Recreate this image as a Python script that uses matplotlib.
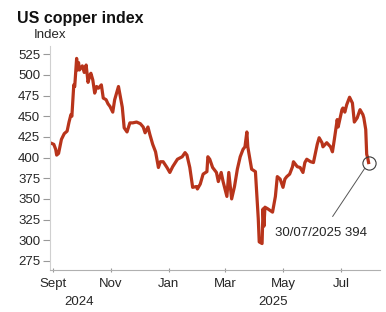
import matplotlib
matplotlib.use('Agg')
import matplotlib.pyplot as plt
import matplotlib.dates as mdates
import matplotlib.transforms as mtransforms
import pandas as pd

# values
dates = ['2024-08-31', '2024-09-02', '2024-09-04', '2024-09-05', '2024-09-07', '2024-09-10',
         '2024-09-13', '2024-09-16', '2024-09-18', '2024-09-20', '2024-09-21', '2024-09-23',
         '2024-09-24', '2024-09-26', '2024-09-27', '2024-09-28', '2024-09-29', '2024-10-02',
         '2024-10-04', '2024-10-06', '2024-10-08', '2024-10-10', '2024-10-11', '2024-10-13',
         '2024-10-15', '2024-10-17', '2024-10-19', '2024-10-22', '2024-10-24', '2024-10-27',
         '2024-10-29', '2024-10-31', '2024-11-03', '2024-11-05', '2024-11-07', '2024-11-09',
         '2024-11-13', '2024-11-15', '2024-11-18', '2024-11-21', '2024-11-24', '2024-11-28',
         '2024-12-02', '2024-12-05', '2024-12-07', '2024-12-10', '2024-12-12', '2024-12-15',
         '2024-12-18', '2024-12-21', '2024-12-23', '2024-12-26', '2024-12-30', '2025-01-02',
         '2025-01-05', '2025-01-10', '2025-01-15', '2025-01-18', '2025-01-20', '2025-01-23',
         '2025-01-26', '2025-01-30', '2025-01-31', '2025-02-03', '2025-02-06', '2025-02-10',
         '2025-02-11', '2025-02-13', '2025-02-16', '2025-02-20', '2025-02-22', '2025-02-25',
         '2025-02-27', '2025-03-03', '2025-03-05', '2025-03-08', '2025-03-11', '2025-03-14',
         '2025-03-17', '2025-03-20', '2025-03-22', '2025-03-24', '2025-03-25', '2025-03-29',
         '2025-04-02', '2025-04-05', '2025-04-06', '2025-04-09', '2025-04-10', '2025-04-11',
         '2025-04-12', '2025-04-15', '2025-04-20', '2025-04-23', '2025-04-25', '2025-04-28',
         '2025-05-01', '2025-05-03', '2025-05-05', '2025-05-08', '2025-05-11', '2025-05-12',
         '2025-05-16', '2025-05-19', '2025-05-22', '2025-05-24', '2025-05-26', '2025-05-30',
         '2025-06-02', '2025-06-06', '2025-06-08', '2025-06-11', '2025-06-12', '2025-06-16',
         '2025-06-20', '2025-06-22', '2025-06-24', '2025-06-27', '2025-06-28', '2025-07-02',
         '2025-07-03', '2025-07-05', '2025-07-07', '2025-07-10', '2025-07-13', '2025-07-15',
         '2025-07-18', '2025-07-21', '2025-07-24', '2025-07-25', '2025-07-27', '2025-07-28',
         '2025-07-29', '2025-07-30']
index_values = [417, 416, 410, 403, 405, 422,
                429, 432, 443, 452, 450, 488,
                486, 520, 506, 515, 506, 511,
                503, 512, 491, 500, 502, 494,
                478, 486, 484, 488, 472, 470,
                465, 462, 455, 470, 478, 486,
                461, 436, 431, 442, 442, 443,
                441, 437, 430, 437, 428, 416,
                407, 388, 395, 395, 388, 382,
                389, 398, 401, 406, 403, 388,
                364, 365, 362, 368, 380, 383,
                401, 398, 388, 382, 371, 382,
                371, 353, 382, 350, 365, 386,
                401, 410, 413, 431, 413, 386,
                383, 326, 298, 296, 338, 317,
                340, 338, 334, 353, 377, 374,
                364, 374, 377, 380, 389, 395,
                389, 388, 382, 394, 398, 395,
                394, 416, 424, 418, 413, 418,
                413, 407, 422, 446, 437, 458,
                460, 455, 464, 473, 466, 443,
                448, 458, 452, 448, 434, 404,
                400, 394]
y_ticks = [275, 300, 325, 350, 375, 400, 425, 450, 475, 500, 525]
month_ticks = ['2024-09-01', '2024-11-01', '2025-01-01', '2025-03-01', '2025-05-01', '2025-07-01']
month_labels = ['Sept', 'Nov', 'Jan', 'Mar', 'May', 'Jul']
year_labels = ['2024', '2025']
year_pos = ['2024-09-29', '2025-04-21']
last_label = '30/07/2025 394'

plt.rcParams['font.family'] = ['Liberation Sans', 'DejaVu Sans']

x = pd.to_datetime(dates)
line_col = '#b8341b'
txt_col = '#262626'

fig = plt.figure(figsize=(3.86, 3.12), dpi=100)
ax = fig.add_axes([50/386, 42/312, 330/386, 224/312])

ax.plot(x, index_values, color=line_col, lw=2.3, solid_joinstyle='round')

# highlight last point
ax.plot(x[-1], index_values[-1], 'o', ms=9.5, mfc='none', mec='#3a3a3a', mew=0.8)
ax.annotate(last_label, xy=(x[-1], index_values[-1]), xytext=(-34, -51),
            textcoords='offset points', ha='center', va='center',
            fontsize=9.5, color=txt_col,
            arrowprops=dict(arrowstyle='-', color='#555555', lw=0.7,
                            shrinkA=7, shrinkB=5))

ax.set_xlim(pd.Timestamp('2024-08-29'), pd.Timestamp('2025-08-11'))
ax.set_ylim(264, 535)
ax.set_yticks(y_ticks)
ax.set_xticks(pd.to_datetime(month_ticks))
ax.set_xticklabels(month_labels)

for s in ['top', 'right']:
    ax.spines[s].set_visible(False)
ax.spines['left'].set_color('#d0d0d0')
ax.spines['bottom'].set_color('#b0b0b0')
ax.tick_params(axis='y', length=5, width=0.8, color='#999999', labelsize=9.5,
               labelcolor=txt_col, pad=2)
ax.tick_params(axis='x', length=3, width=0.8, color='#999999', direction='inout',
               labelsize=9.5, labelcolor=txt_col, pad=4)

trans = mtransforms.blended_transform_factory(ax.transData, ax.transAxes)
for lab, pos in zip(year_labels, year_pos):
    ax.text(pd.Timestamp(pos), -0.145, lab, transform=trans, ha='center', va='center',
            fontsize=9.5, color=txt_col)

fig.text(17/386, 1 - 19/312, 'US copper index', fontsize=11.5, fontweight='bold',
         color='#111111', va='center')
fig.text(34/386, 1 - 35/312, 'Index', fontsize=9.5, color=txt_col, va='center')

fig.savefig('out.png', dpi=100)
